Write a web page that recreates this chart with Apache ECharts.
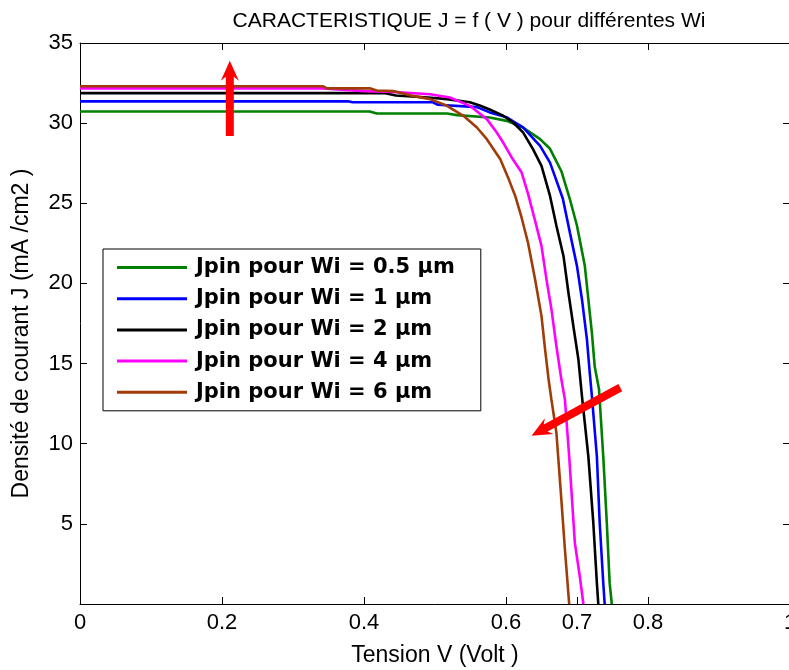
<!DOCTYPE html>
<html>
<head>
<meta charset="utf-8">
<script src="https://cdn.jsdelivr.net/npm/echarts@6/dist/echarts.min.js"></script>
<style>
    html, body {margin: 0; padding: 0; background: #fff;}
    #chart {width: 789px; height: 670px;}
</style>
</head>
<body>
<div id="chart"></div>
<script>
// tensions (V) et densites de courant (mA/cm2)
var vGreen = [0, 0.408, 0.418, 0.517, 0.531, 0.577, 0.601, 0.624, 0.648, 0.662, 0.678, 0.690, 0.700, 0.711, 0.716, 0.721, 0.725, 0.731, 0.737, 0.742, 0.746, 0.749];
var jGreen = [30.73, 30.73, 30.6, 30.6, 30.5, 30.35, 30.14, 29.73, 29.0, 28.4, 27.0, 25.25, 23.6, 21.1, 19.0, 16.9, 14.8, 13.4, 9.2, 5.04, 1.3, 0];

var vBlue = [0, 0.377, 0.384, 0.497, 0.504, 0.559, 0.577, 0.601, 0.624, 0.648, 0.662, 0.680, 0.690, 0.700, 0.707, 0.714, 0.718, 0.721, 0.728, 0.732, 0.737, 0.739];
var jBlue = [31.36, 31.36, 31.3, 31.3, 31.15, 31.0, 30.67, 30.36, 29.73, 28.58, 27.54, 25.3, 23.17, 21.08, 19.0, 16.5, 14.4, 12.96, 9.2, 5.04, 1.3, 0];

var vBlack = [0, 0.430, 0.445, 0.490, 0.517, 0.549, 0.563, 0.577, 0.596, 0.610, 0.624, 0.638, 0.650, 0.662, 0.671, 0.681, 0.688, 0.695, 0.702, 0.707, 0.716, 0.723, 0.728, 0.730];
var jBlack = [31.87, 31.87, 31.72, 31.6, 31.5, 31.3, 31.1, 30.85, 30.46, 30.04, 29.42, 28.38, 27.33, 25.46, 23.6, 21.7, 19.4, 17.3, 15.25, 12.96, 9.2, 5.04, 1.3, 0];

var vMagenta = [0, 0.342, 0.400, 0.440, 0.493, 0.521, 0.549, 0.573, 0.587, 0.596, 0.608, 0.622, 0.631, 0.641, 0.650, 0.657, 0.664, 0.671, 0.678, 0.683, 0.689, 0.697, 0.704, 0.709];
var jMagenta = [32.17, 32.17, 32.0, 31.95, 31.8, 31.6, 31.08, 30.25, 29.42, 28.79, 27.86, 26.92, 25.6, 23.9, 22.33, 20.25, 18.38, 16.08, 14.0, 12.75, 9.2, 3.8, 1.7, 0];

var vBrown = [0, 0.342, 0.348, 0.408, 0.418, 0.441, 0.469, 0.493, 0.517, 0.540, 0.559, 0.573, 0.592, 0.603, 0.613, 0.622, 0.631, 0.641, 0.650, 0.655, 0.660, 0.664, 0.671, 0.677, 0.683, 0.689];
var jBrown = [32.3, 32.3, 32.17, 32.17, 32.03, 32.0, 31.7, 31.5, 31.08, 30.46, 29.73, 29.0, 27.75, 26.6, 25.46, 24.1, 22.54, 20.25, 17.96, 15.9, 14.0, 12.75, 10.67, 7.1, 3.4, 0];

var seriesNames = ['Jpin pour Wi = 0.5 µm', 'Jpin pour Wi = 1 µm', 'Jpin pour Wi = 2 µm', 'Jpin pour Wi = 4 µm', 'Jpin pour Wi = 6 µm'];
var seriesColors = ['#008000', '#0000ff', '#000000', '#ff00ff', '#a03c08'];

var xTicks = [0, 0.2, 0.4, 0.6, 0.7, 0.8, 1];

// fleches rouges : [V depart, J depart, V pointe, J pointe]
var arrows = [
    [0.211, 29.2, 0.211, 33.9],
    [0.761, 13.5, 0.636, 10.5]
];

function zip(v, j) {
    var out = [];
    for (var i = 0; i < v.length; i++) {
        out.push([v[i], j[i]]);
    }
    return out;
}

var curves = [zip(vGreen, jGreen), zip(vBlue, jBlue), zip(vBlack, jBlack), zip(vMagenta, jMagenta), zip(vBrown, jBrown)];

var FONT = 'Liberation Sans, Arial, sans-serif';

/*
* fleche style matlab
* */
function renderArrow(params, api) {
    var b = api.coord([api.value(0), api.value(1)]);
    var t = api.coord([api.value(2), api.value(3)]);
    var dx = t[0] - b[0], dy = t[1] - b[1];
    var len = Math.sqrt(dx * dx + dy * dy);
    var ux = dx / len, uy = dy / len;
    var nx = -uy, ny = ux;
    var head = 20, notch = 4, hw = 9, sw = 4;
    var wx = t[0] - ux * head, wy = t[1] - uy * head;
    var kx = t[0] - ux * (head - notch), ky = t[1] - uy * (head - notch);
    var pts = [
        [b[0] + nx * sw, b[1] + ny * sw],
        [kx + nx * sw, ky + ny * sw],
        [wx + nx * hw, wy + ny * hw],
        [t[0], t[1]],
        [wx - nx * hw, wy - ny * hw],
        [kx - nx * sw, ky - ny * sw],
        [b[0] - nx * sw, b[1] - ny * sw]
    ];
    return {type: 'polygon', shape: {points: pts}, style: {fill: '#ff0000'}};
}

var series = [];
for (var i = 0; i < curves.length; i++) {
    series.push({
        name: seriesNames[i],
        type: 'line',
        data: curves[i],
        showSymbol: false,
        symbol: 'none',
        lineStyle: {color: seriesColors[i], width: 2.6},
        itemStyle: {color: seriesColors[i]},
        z: 2 + i
    });
}
series.push({
    type: 'custom',
    renderItem: renderArrow,
    encode: {x: [0, 2], y: [1, 3]},
    data: arrows,
    silent: true,
    z: 10
});

var chart = echarts.init(document.getElementById('chart'), null, {renderer: 'canvas'});

var option = {
    backgroundColor: '#fff',
    animation: false,
    title: {
        text: 'CARACTERISTIQUE J = f ( V ) pour différentes Wi',
        left: 464,
        textAlign: 'center',
        top: 6,
        textStyle: {fontFamily: FONT, fontSize: 21, fontWeight: 'normal', color: '#000'}
    },
    grid: {left: 80, right: -1, top: 43, bottom: 66, outerBoundsMode: 'none', containLabel: false},
    legend: {
        orient: 'vertical',
        left: 103,
        top: 249,
        data: seriesNames,
        icon: 'rect',
        itemWidth: 70,
        itemHeight: 3,
        itemGap: 10.2,
        padding: [8, 26, 8, 14],
        borderColor: '#000',
        borderWidth: 1,
        backgroundColor: '#fff',
        selectedMode: false,
        textStyle: {fontFamily: 'DejaVu Sans, sans-serif', fontSize: 21, fontWeight: 'bold', color: '#000', lineHeight: 21, padding: [0, 0, 0, 4]}
    },
    xAxis: [
        {
            type: 'value', min: 0, max: 1, position: 'bottom',
            name: 'Tension V (Volt )', nameLocation: 'middle', nameGap: 40,
            nameTextStyle: {fontFamily: FONT, fontSize: 23, color: '#000'},
            axisLine: {show: true, onZero: false, lineStyle: {color: '#000', width: 1}},
            axisTick: {show: true, inside: true, length: 7, customValues: xTicks, lineStyle: {color: '#000'}},
            axisLabel: {customValues: xTicks, margin: 8, fontFamily: FONT, fontSize: 22, color: '#000', hideOverlap: false},
            splitLine: {show: false}
        },
        {
            type: 'value', min: 0, max: 1, position: 'top',
            axisLine: {show: true, onZero: false, lineStyle: {color: '#000', width: 1}},
            axisTick: {show: true, inside: true, length: 7, customValues: xTicks, lineStyle: {color: '#000'}},
            axisLabel: {show: false},
            splitLine: {show: false}
        }
    ],
    yAxis: [
        {
            type: 'value', min: 0, max: 35, interval: 5, position: 'left',
            name: 'Densité de courant J (mA /cm2 )', nameLocation: 'middle', nameGap: 47,
            nameTextStyle: {fontFamily: FONT, fontSize: 23, color: '#000', padding: [0, 20, 0, 0]},
            axisLine: {show: true, onZero: false, lineStyle: {color: '#000', width: 1}},
            axisTick: {show: true, inside: true, length: 7, lineStyle: {color: '#000'}},
            axisLabel: {
                margin: 7, fontFamily: FONT, fontSize: 22, color: '#000',
                formatter: function (v) { return v === 0 ? '' : String(v); }
            },
            splitLine: {show: false}
        },
        {
            type: 'value', min: 0, max: 35, interval: 5, position: 'right',
            axisLine: {show: true, onZero: false, lineStyle: {color: '#000', width: 1}},
            axisTick: {show: true, inside: true, length: 7, lineStyle: {color: '#000'}},
            axisLabel: {show: false},
            splitLine: {show: false}
        }
    ],
    series: series
};
chart.setOption(option);
</script>
</body>
</html>
